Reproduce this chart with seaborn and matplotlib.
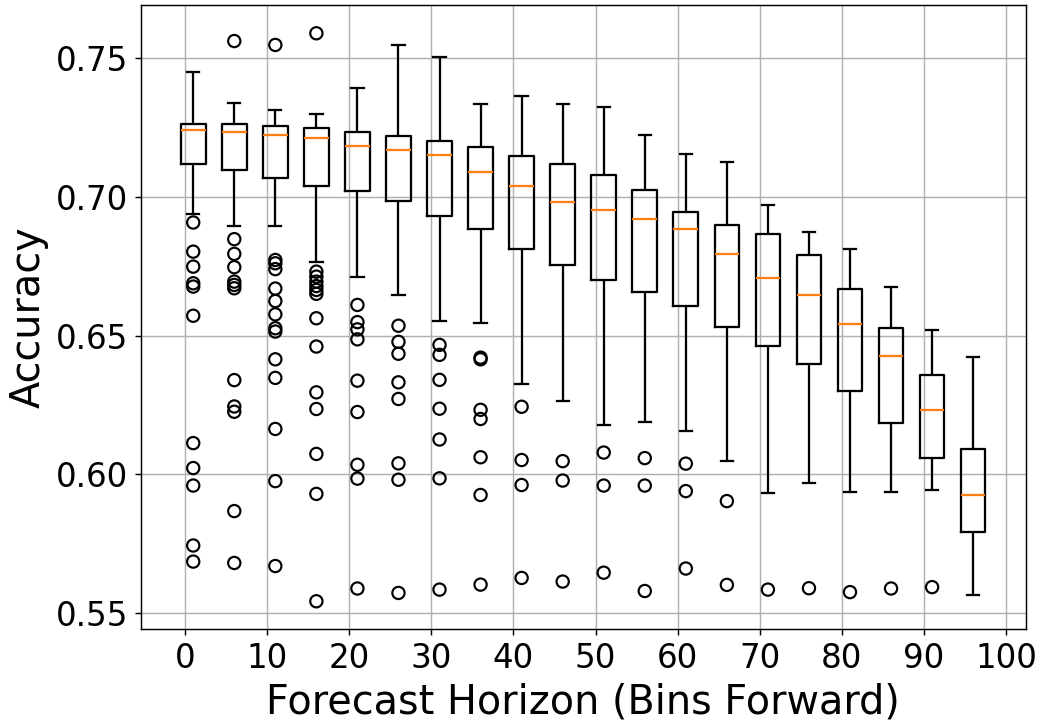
import matplotlib
matplotlib.use("Agg")
import matplotlib.pyplot as plt
import seaborn as sns
import pandas as pd

# Forecast horizons (box positions)
horizons = [1, 6, 11, 16, 21, 26, 31, 36, 41, 46, 51, 56, 61, 66, 71, 76, 81, 86, 91, 96]

# Box statistics
whisker_high = [0.7450, 0.7338, 0.7315, 0.7300, 0.7392, 0.7548, 0.7506, 0.7336, 0.7364, 0.7335,
                0.7323, 0.7225, 0.7154, 0.7126, 0.6971, 0.6874, 0.6812, 0.6675, 0.6521, 0.6424]
q3_values = [0.7262, 0.7264, 0.7257, 0.7249, 0.7233, 0.7220, 0.7202, 0.7180, 0.7146, 0.7120,
             0.7081, 0.7025, 0.6947, 0.6900, 0.6868, 0.6792, 0.6670, 0.6529, 0.6358, 0.6091]
median_values = [0.7241, 0.7233, 0.7225, 0.7212, 0.7185, 0.7171, 0.7153, 0.7090, 0.7039, 0.6982,
                 0.6954, 0.6922, 0.6886, 0.6796, 0.6707, 0.6647, 0.6541, 0.6426, 0.6234, 0.5925]
q1_values = [0.7120, 0.7098, 0.7069, 0.7041, 0.7023, 0.6985, 0.6933, 0.6886, 0.6814, 0.6756,
             0.6701, 0.6657, 0.6607, 0.6531, 0.6462, 0.6397, 0.6302, 0.6187, 0.6059, 0.5794]
whisker_low = [0.6940, 0.6895, 0.6895, 0.6765, 0.6710, 0.6647, 0.6553, 0.6547, 0.6327, 0.6266,
               0.6179, 0.6190, 0.6157, 0.6050, 0.5932, 0.5968, 0.5938, 0.5936, 0.5943, 0.5565]

# Outliers per horizon
flier_values = [
    [0.6908, 0.6803, 0.6749, 0.6689, 0.6677, 0.6572, 0.6113, 0.6023, 0.5960, 0.5744, 0.5686],
    [0.7562, 0.6848, 0.6795, 0.6747, 0.6695, 0.6683, 0.6671, 0.6340, 0.6245, 0.6226, 0.5868, 0.5681],
    [0.7548, 0.6773, 0.6761, 0.6740, 0.6670, 0.6625, 0.6577, 0.6527, 0.6515, 0.6415, 0.6348, 0.6164, 0.5976, 0.5670],
    [0.7590, 0.6731, 0.6713, 0.6695, 0.6679, 0.6665, 0.6651, 0.6563, 0.6461, 0.6296, 0.6236, 0.6074, 0.5930, 0.5543],
    [0.6611, 0.6549, 0.6523, 0.6487, 0.6338, 0.6225, 0.6035, 0.5985, 0.5589],
    [0.6536, 0.6478, 0.6435, 0.6332, 0.6272, 0.6040, 0.5981, 0.5573],
    [0.6467, 0.6431, 0.6341, 0.6237, 0.6126, 0.5986, 0.5585],
    [0.6421, 0.6415, 0.6233, 0.6200, 0.6062, 0.5926, 0.5603],
    [0.6244, 0.6052, 0.5962, 0.5627],
    [0.6048, 0.5978, 0.5614],
    [0.6079, 0.5960, 0.5646],
    [0.6059, 0.5960, 0.5580],
    [0.6039, 0.5940, 0.5661],
    [0.5904, 0.5602],
    [0.5585],
    [0.5590],
    [0.5576],
    [0.5589],
    [0.5594],
    [],
]

x_ticks = [0, 10, 20, 30, 40, 50, 60, 70, 80, 90, 100]

# Build a sample per horizon whose min / quartiles / max equal the read statistics
REP = 40
rows = []
for h, lo, a, m, b, hi in zip(horizons, whisker_low, q1_values, median_values, q3_values, whisker_high):
    sample = [lo] + [a] * REP + [m] * REP + [b] * REP + [hi]
    rows.extend({"horizon": h, "accuracy": v} for v in sample)
box_df = pd.DataFrame(rows)

flier_df = pd.DataFrame(
    [{"horizon": h, "accuracy": v} for h, vals in zip(horizons, flier_values) for v in vals]
)

fig = plt.figure(figsize=(1039 / 130, 721 / 130), dpi=130)
ax = fig.add_axes([0.1354, 0.1272, 0.9872 - 0.1354, 0.9931 - 0.1272])

ax.grid(True, color="#b0b0b0", linewidth=0.8)
ax.set_axisbelow(True)

sns.boxplot(
    data=box_df, x="horizon", y="accuracy", native_scale=True,
    width=0.6, fill=False, color="black", linecolor="black", linewidth=1.25,
    whis=(0, 100), showfliers=False,
    medianprops={"color": "#ff7f0e", "linewidth": 1.25},
    ax=ax,
)

sns.scatterplot(
    data=flier_df, x="horizon", y="accuracy", marker="o", s=46,
    facecolor="none", edgecolor="black", linewidth=1.2, ax=ax, zorder=3,
)

ax.set_xticks(x_ticks)
ax.set_xticklabels([str(t) for t in x_ticks])
ax.set_xlim(-5.4, 102.4)
ax.set_ylim(0.5442, 0.7692)
ax.set_yticks([0.55, 0.60, 0.65, 0.70, 0.75])
ax.set_yticklabels(["0.55", "0.60", "0.65", "0.70", "0.75"])
ax.tick_params(labelsize=18)
ax.set_xlabel("Forecast Horizon (Bins Forward)", fontsize=22)
ax.set_ylabel("Accuracy", fontsize=22)
for s in ax.spines.values():
    s.set_color("black")
    s.set_linewidth(0.8)

fig.savefig("out.png", dpi=130)
